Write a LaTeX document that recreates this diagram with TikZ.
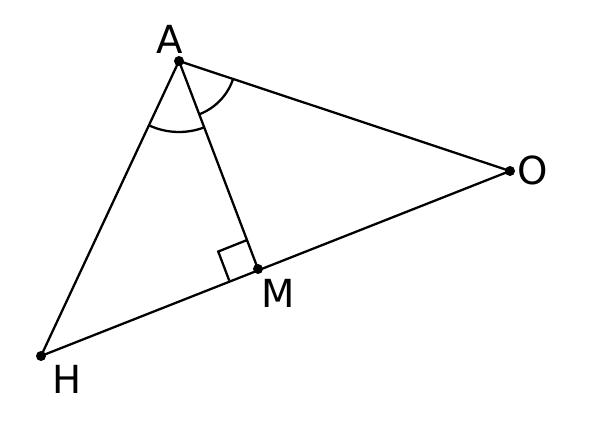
\documentclass[tikz,border=0pt]{standalone}
\usepackage{fontspec}
\setmainfont{DejaVu Sans}
\usetikzlibrary{angles}
\tikzset{
  seg/.style={line width=1.3pt},
  ptlabel/.style={inner sep=0pt,font=\fontsize{22}{25}\selectfont},
}
\begin{document}
\begin{tikzpicture}[x=0.02cm,y=-0.02cm]%
\useasboundingbox (0,0) rectangle (592,424);%
\def\dotr{0.1cm};%
% points
\coordinate (A) at (179,61);%
\coordinate (O) at (510,171);%
\coordinate (M) at (258,269);%
\coordinate (H) at (41,356);%
% sides
\draw[seg,line join=round] (A) -- (O) -- (H) -- cycle;%
\draw[seg] (A) -- (M);%
% angle marks
\draw pic[draw,seg,angle radius=1.42cm] {angle=H--A--M};%
\draw pic[draw,seg,angle radius=1.14cm] {angle=M--A--O};%
\draw pic[draw,seg,angle radius=0.62cm] {right angle=A--M--H};%
% dots
\foreach \p in {A,O,M,H} \fill (\p) circle (\dotr);%
% labels
\node[ptlabel] (lA) at (170,39) {A};%
\node[ptlabel] (lO) at (533,170) {O};%
\node[ptlabel] (lM) at (278,293) {M};%
\node[ptlabel] (lH) at (67,379) {H};%
\end{tikzpicture}
\end{document}
